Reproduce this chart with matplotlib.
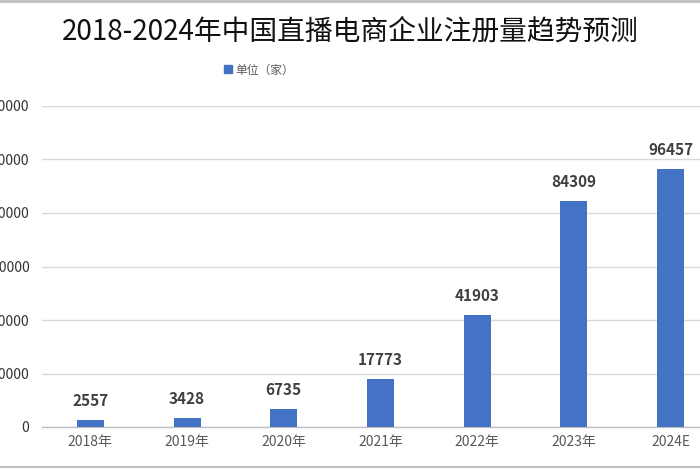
import matplotlib
matplotlib.use("Agg")
import matplotlib.pyplot as plt
from matplotlib.lines import Line2D

plt.rcParams['font.family'] = ['Noto Sans CJK SC', 'DejaVu Sans']

categories = ["2018年", "2019年", "2020年", "2021年", "2022年", "2023年", "2024E"]
values = [2557, 3428, 6735, 17773, 41903, 84309, 96457]
yticks = [0, 20000, 40000, 60000, 80000, 100000, 120000]
title = "2018-2024年中国直播电商企业注册量趋势预测"
legend_label = "单位（家）"

bar_color = "#4472C4"

fig = plt.figure(figsize=(7, 4.7), dpi=100)
ax = fig.add_axes([42/700, 43/470, 677/700, 321/470])

x = list(range(len(categories)))
ax.bar(x, values, width=0.28, color=bar_color, zorder=3, label=legend_label)
ax.set_xlim(-0.5, len(categories) - 0.5)
ax.set_ylim(0, 120000)
ax.set_yticks(yticks)
ax.set_yticklabels([str(v) for v in yticks], fontsize=10, color="#333333")
ax.set_xticks(x)
ax.set_xticklabels(categories, fontsize=10, color="#595959")
ax.tick_params(axis='both', length=0)
ax.tick_params(axis='y', pad=9)
ax.tick_params(axis='x', pad=6)
ax.grid(axis='y', color="#d9d9d9", linewidth=1, zorder=0)
for s in ['top', 'right', 'left']:
    ax.spines[s].set_visible(False)
ax.spines['bottom'].set_color("#bfbfbf")
ax.spines['bottom'].set_linewidth(1)

for xi, v in zip(x, values):
    ax.annotate(str(v), (xi, v), xytext=(0, 8), textcoords='offset points',
                ha='center', va='bottom', fontsize=11, fontweight='bold', color="#404040")

fig.text(0.5, 1 - 32/470, title, ha='center', va='center', fontsize=20, color="#111111")

handle = Line2D([0], [0], marker='s', color='none', markerfacecolor=bar_color,
                markeredgecolor=bar_color, markersize=6)
fig.legend([handle], [legend_label], loc='center', bbox_to_anchor=(259/700, 1 - 70/470),
           frameon=False, fontsize=8.5, handlelength=0.7, handletextpad=0.3,
           labelcolor="#595959")

fig.add_artist(Line2D([0, 1], [1 - 1/470, 1 - 1/470], transform=fig.transFigure,
                      color="#bfbfbf", linewidth=2))
fig.add_artist(Line2D([0, 1], [3/470, 3/470], transform=fig.transFigure,
                      color="#bfbfbf", linewidth=1.5))

fig.savefig("out.png", dpi=100)
